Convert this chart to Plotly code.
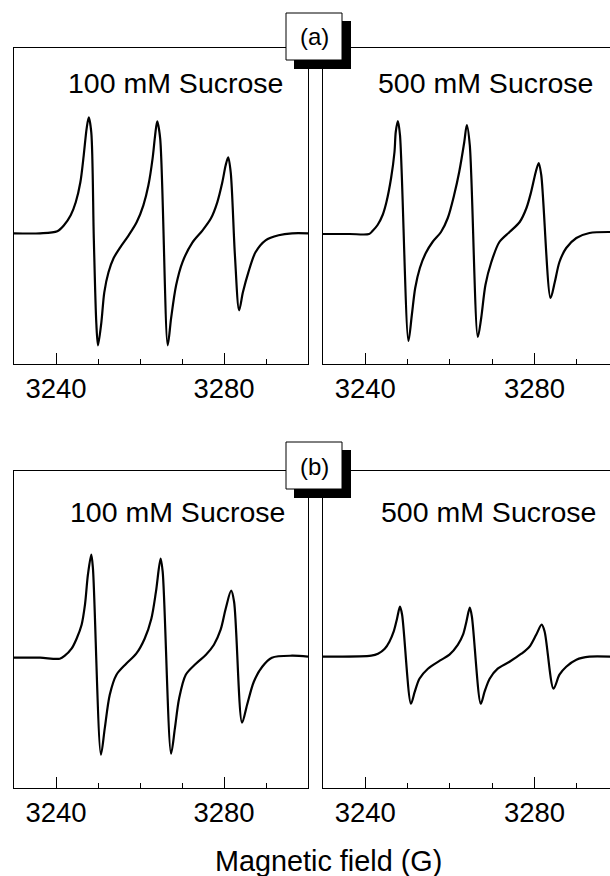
import plotly.graph_objects as go

# ---------------- data (field in G, signal in arbitrary units; baseline = 0) ----------------
a100_field = [3230.0, 3236.2, 3240.3, 3241.9, 3243.5, 3244.7, 3245.8, 3246.6, 3247.3, 3247.8,
              3248.4, 3249.0, 3249.6, 3250.0, 3250.8, 3251.5, 3252.5, 3253.7, 3255.3, 3257.3,
              3259.2, 3260.8, 3262.0, 3263.0, 3263.6, 3264.1, 3264.8, 3266.6, 3267.4, 3268.6,
              3270.1, 3272.5, 3274.9, 3276.9, 3278.4, 3279.6, 3280.4, 3281.0, 3281.6, 3282.6,
              3283.6, 3284.5, 3285.8, 3287.5, 3289.9, 3293.0, 3296.2, 3300.0]
a100_signal = [0, 0, 2, 8, 18, 31, 51, 78, 105, 116,
               101, -5, -90, -112, -89, -59, -39, -25, -14, -2,
               11, 28, 48, 75, 98, 112, 95, -112, -85, -52,
               -29, -9, 3, 15, 31, 51, 68, 76, 61, -22,
               -77, -59, -39, -19, -7, -2, 0, 0]

a500_field = [3229.9, 3236.3, 3240.9, 3241.7, 3242.9, 3244.1, 3245.0, 3246.1, 3246.9, 3247.2,
              3247.7, 3248.2, 3250.2, 3251.0, 3251.8, 3252.9, 3254.3, 3255.9, 3257.9, 3259.5,
              3261.0, 3262.2, 3263.4, 3264.0, 3264.7, 3266.6, 3267.4, 3268.4, 3269.8, 3271.7,
              3274.1, 3276.5, 3278.1, 3279.2, 3280.3, 3281.0, 3281.6, 3283.8, 3284.8, 3285.9,
              3287.5, 3289.9, 3293.0, 3297.9]
a500_signal = [0, 0, 0, 3, 9, 19, 32, 56, 82, 102,
               113, 99, -107, -81, -54, -34, -19, -8, 2, 16,
               39, 62, 92, 109, 89, -103, -84, -51, -28, -8,
               2, 12, 26, 42, 62, 71, 59, -64, -48, -28,
               -14, -4, 1, 2]

b100_field = [3230.0, 3236.2, 3240.9, 3242.1, 3243.7, 3244.9, 3246.1, 3246.9, 3247.6, 3248.4,
              3248.8, 3250.7, 3251.6, 3252.8, 3254.4, 3256.7, 3259.1, 3261.1, 3262.7, 3263.8,
              3264.9, 3265.4, 3267.4, 3268.3, 3269.3, 3270.9, 3273.3, 3275.7, 3277.6, 3279.2,
              3280.4, 3281.7, 3282.4, 3284.3, 3285.5, 3287.1, 3289.1, 3291.4, 3296.2, 3300.0]
b100_signal = [0, 0, -1, 2, 9, 19, 33, 53, 83, 103,
               89, -97, -71, -37, -17, -6, 4, 19, 39, 66,
               99, 86, -96, -71, -41, -17, -6, 3, 13, 28,
               49, 67, 56, -65, -47, -24, -9, 0, 2, 1]

b500_field = [3229.9, 3231.6, 3241.4, 3243.0, 3244.6, 3245.7, 3246.7, 3247.5, 3248.2, 3248.7,
              3250.8, 3251.7, 3252.8, 3254.8, 3257.6, 3259.9, 3261.9, 3263.1, 3263.9, 3264.7,
              3265.2, 3267.3, 3268.2, 3269.4, 3271.3, 3274.1, 3276.9, 3278.8, 3280.4, 3281.7,
              3282.4, 3284.5, 3285.9, 3287.5, 3289.9, 3293.0, 3297.9]
b500_signal = [0, 0, 1, 3, 8, 15, 25, 38, 50, 42,
               -47, -35, -22, -12, -4, 2, 12, 22, 35, 49,
               40, -47, -35, -22, -12, -5, 3, 10, 22, 32,
               25, -32, -18, -10, -3, 0, 0]

panel_labels = ["100 mM Sucrose", "500 mM Sucrose", "100 mM Sucrose", "500 mM Sucrose"]
group_labels = ["(a)", "(b)"]
tick_values = [3240, 3280]
x_title = "Magnetic field (G)"

# ---------------- layout helpers ----------------
W, H = 610, 876
FONT = "Liberation Sans, Arial, sans-serif"


def px(x):
    return x / W


def py(y):
    return 1 - y / H


series = [(a100_field, a100_signal), (a500_field, a500_signal),
          (b100_field, b100_signal), (b500_field, b500_signal)]

# panel geometry in pixels: (left, right, top, bottom, xrange, yrange, right spine)
panels = [
    (14, 308, 48, 364, [3230, 3300], [-130.7, 185.3], True),
    (323, 610, 48, 364, [3230, 3297.85], [-130, 186], False),
    (14, 308, 471, 788, [3230, 3300], [-130.3, 186.7], True),
    (323, 610, 471, 788, [3230, 3297.85], [-131.3, 185.7], False),
]

fig = go.Figure()
layout = dict(width=W, height=H, margin=dict(l=0, r=0, t=0, b=0),
              paper_bgcolor="white", plot_bgcolor="white", showlegend=False,
              font=dict(family=FONT, color="black"))

for i, ((fx, fy), (l, r, t, b, xr, yr, mir)) in enumerate(zip(series, panels)):
    n = "" if i == 0 else str(i + 1)
    fig.add_trace(go.Scatter(x=fx, y=fy, mode="lines", xaxis="x" + n, yaxis="y" + n,
                             line=dict(color="black", width=2.2, shape="spline", smoothing=0.85),
                             hoverinfo="skip"))
    layout["xaxis" + n] = dict(domain=[px(l), px(r)], range=xr, anchor="y" + n,
                               showline=True, linecolor="black", linewidth=1.3, mirror=True,
                               showgrid=False, zeroline=False,
                               ticks="inside", ticklen=11, tickwidth=1.3, tickcolor="black",
                               tickmode="array", tickvals=tick_values,
                               ticktext=[str(v) for v in tick_values],
                               tickfont=dict(size=27.5, family=FONT, color="black"),
                               minor=dict(ticks="inside", ticklen=5, tickwidth=1.3,
                                          tickcolor="black", dtick=10, tick0=3230,
                                          showgrid=False))
    layout["yaxis" + n] = dict(domain=[py(b), py(t)], range=yr, anchor="x" + n,
                               showline=True, linecolor="black", linewidth=1.3, mirror=mir,
                               showgrid=False, zeroline=False, showticklabels=False,
                               ticks="")

fig.update_layout(**layout)

# panel texts
label_pos = [(175, 83), (485, 83), (177, 512), (488, 512)]
for txt, (x, y) in zip(panel_labels, label_pos):
    fig.add_annotation(text=txt, x=px(x), y=py(y), xref="paper", yref="paper",
                       xanchor="center", yanchor="middle", showarrow=False,
                       font=dict(size=28.5, family=FONT, color="black"))

# group label boxes with drop shadow
for txt, top in zip(group_labels, [13, 442]):
    fig.add_shape(type="rect", xref="paper", yref="paper",
                  x0=px(294), x1=px(351), y0=py(top + 8), y1=py(top + 56),
                  fillcolor="black", line=dict(width=0), layer="above")
    fig.add_shape(type="rect", xref="paper", yref="paper",
                  x0=px(286), x1=px(342), y0=py(top), y1=py(top + 47),
                  fillcolor="white", line=dict(color="black", width=1), layer="above")
    fig.add_annotation(text=txt, x=px(314), y=py(top + 24), xref="paper", yref="paper",
                       xanchor="center", yanchor="middle", showarrow=False,
                       font=dict(size=24, family=FONT, color="black"))

fig.add_annotation(text=x_title, x=px(328), y=py(861), xref="paper", yref="paper",
                   xanchor="center", yanchor="middle", showarrow=False,
                   font=dict(size=28.8, family=FONT, color="black"))

fig.write_html("out.html")
